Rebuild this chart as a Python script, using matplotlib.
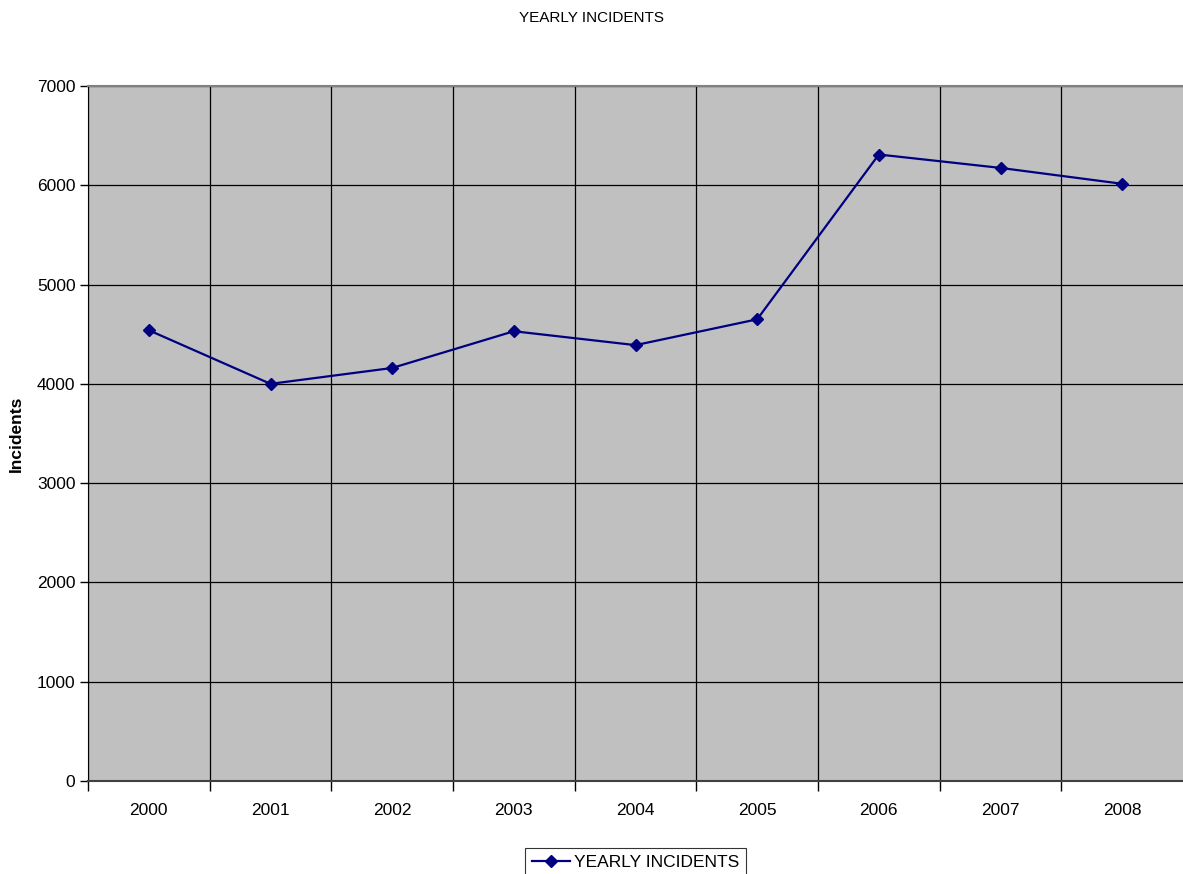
import numpy as np
import matplotlib.pyplot as plt

plt.rcParams['font.family'] = ['Liberation Sans', 'DejaVu Sans']

years = ['2000', '2001', '2002', '2003', '2004', '2005', '2006', '2007', '2008']
incidents = [4540, 4000, 4160, 4530, 4390, 4650, 6310, 6175, 6015]
y_ticks = [0, 1000, 2000, 3000, 4000, 5000, 6000, 7000]

fig = plt.figure(figsize=(11.83, 8.74), dpi=100)
ax = fig.add_axes([88 / 1183, 1 - 781 / 874, 1 - 88 / 1183, (781 - 86) / 874])

x = np.arange(len(years))
ax.set_facecolor('#C0C0C0')
ax.plot(x, incidents, color='#000080', linewidth=1.6, marker='D',
        markersize=6.5, label='YEARLY INCIDENTS', zorder=3)

ax.set_xlim(-0.5, len(years) - 0.5)
ax.set_ylim(0, 7000)

# category labels centred, tick marks and gridlines on the boundaries
ax.set_xticks(x)
ax.set_xticklabels(years)
ax.tick_params(axis='x', which='major', length=0, pad=16, labelsize=12.5)
ax.set_xticks(np.arange(-0.5, len(years) - 1, 1), minor=True)
ax.tick_params(axis='x', which='minor', length=7, width=1, color='black')
ax.grid(axis='x', which='minor', color='black', linewidth=0.9)

ax.set_yticks(y_ticks)
ax.tick_params(axis='y', length=6, width=1, labelsize=12.5, pad=3)
ax.grid(axis='y', which='major', color='black', linewidth=0.9)
ax.set_axisbelow(True)

ax.spines['top'].set_color('#808080')
ax.spines['top'].set_linewidth(1.5)
ax.spines['left'].set_color('black')
ax.spines['bottom'].set_color('#404040')
ax.spines['bottom'].set_linewidth(1.5)
ax.spines['right'].set_visible(False)

ax.set_ylabel('Incidents', fontsize=12.5, fontweight='bold', labelpad=9)
fig.text(0.5, 1 - 18 / 874, 'YEARLY INCIDENTS', ha='center', va='center', fontsize=11)

leg = ax.legend(loc='upper center', bbox_to_anchor=(0.5, -0.084), frameon=True,
                fancybox=False, edgecolor='black', fontsize=12.5, handlelength=2.2,
                handletextpad=0.2, borderpad=0.4)
leg.get_frame().set_linewidth(0.8)

fig.savefig('out.png', dpi=100)
